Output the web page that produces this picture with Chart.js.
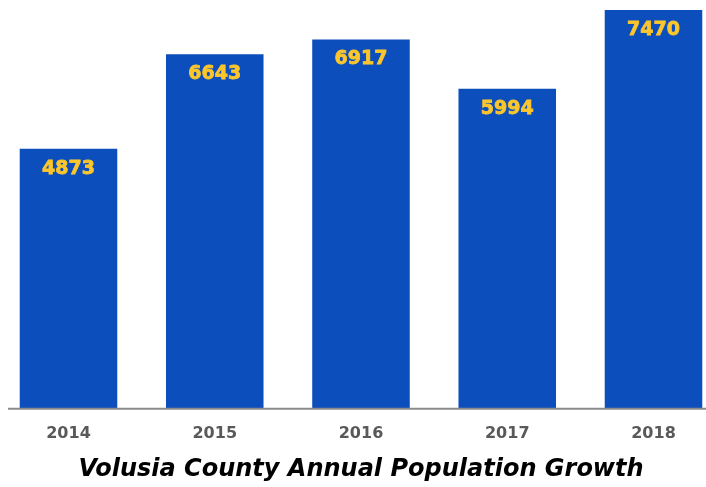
<!DOCTYPE html>
<html>
<head>
<meta charset="utf-8">
<script src="https://cdn.jsdelivr.net/npm/chart.js@4.4.1/dist/chart.umd.min.js"></script>
<style>
  html, body { margin: 0; padding: 0; background: #fff; }
  #wrap { width: 706px; height: 487px; position: relative; }
</style>
</head>
<body>
<div id="wrap"><canvas id="popChart"></canvas></div>
<script>
const years = ['2014', '2015', '2016', '2017', '2018'];
const growth = [4873, 6643, 6917, 5994, 7470];
const yMax = 7470;

const BAR_BLUE = '#0c4fbc';
const LABEL_YELLOW = '#fcc62c';
const HEAVY = '"DejaVu Sans", "Liberation Sans", Arial, sans-serif';

// values drawn inside the top of each bar
const barValues = {
    id: 'barValues',
    afterDatasetsDraw(chart) {
        const { ctx } = chart;
        const meta = chart.getDatasetMeta(0);
        ctx.save();
        ctx.font = 'bold 19px ' + HEAVY;
        ctx.fillStyle = LABEL_YELLOW;
        ctx.strokeStyle = LABEL_YELLOW;
        ctx.lineWidth = 0.8;
        ctx.textAlign = 'center';
        ctx.textBaseline = 'middle';
        meta.data.forEach((bar, i) => {
            ctx.fillText(String(growth[i]), bar.x, bar.y + 20);
            ctx.strokeText(String(growth[i]), bar.x, bar.y + 20);
        });
        ctx.restore();
    }
};

// grey baseline running almost the full width
const baseline = {
    id: 'baseline',
    afterDatasetsDraw(chart) {
        const { ctx, chartArea } = chart;
        ctx.save();
        ctx.strokeStyle = '#8a8a8a';
        ctx.lineWidth = 2;
        ctx.beginPath();
        ctx.moveTo(8, chartArea.bottom);
        ctx.lineTo(chart.width, chartArea.bottom);
        ctx.stroke();
        ctx.restore();
    }
};

new Chart(document.getElementById('popChart'), {
    type: 'bar',
    data: {
        labels: years,
        datasets: [{
            data: growth,
            backgroundColor: BAR_BLUE,
            categoryPercentage: 1,
            barPercentage: 0.667,
            clip: false,
        }],
    },
    options: {
        responsive: true,
        maintainAspectRatio: false,
        animation: false,
        layout: { padding: { left: 68.5, right: 52.5, top: 10, bottom: 5 } },
        plugins: {
            legend: { display: false },
            tooltip: { enabled: false },
            title: {
                display: true,
                position: 'bottom',
                text: 'Volusia County Annual Population Growth',
                color: '#000',
                font: { family: HEAVY, size: 24, weight: 'bold', style: 'italic', lineHeight: 1 },
                padding: { top: 0, bottom: 0 },
            },
        },
        scales: {
            x: {
                offset: false,
                grid: { display: false, drawTicks: false },
                border: { display: false },
                ticks: {
                    color: '#595959',
                    padding: 15,
                    maxRotation: 0,
                    font: { family: HEAVY, size: 16, weight: 'bold' },
                },
            },
            y: {
                display: false,
                min: 0,
                max: yMax,
            },
        },
    },
    plugins: [barValues, baseline],
});
</script>
</body>
</html>
